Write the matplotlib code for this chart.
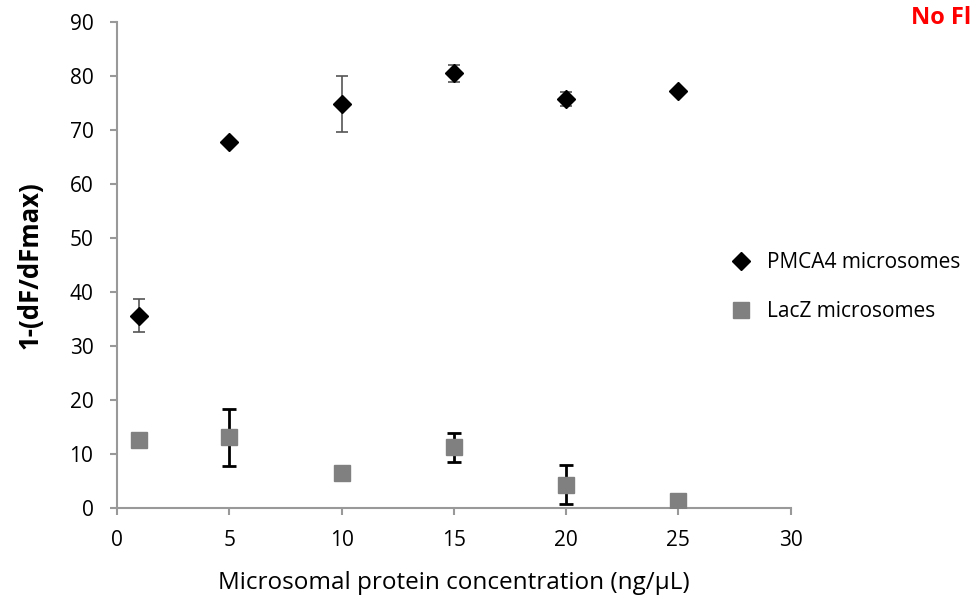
import matplotlib
matplotlib.use("Agg")
import matplotlib.pyplot as plt
from matplotlib.lines import Line2D

x = [1, 5, 10, 15, 20, 25]
pmca4 = [35.6, 67.8, 74.8, 80.5, 75.8, 77.3]
pmca4_err = [3.1, 0.0, 5.2, 1.6, 1.3, 0.0]
lacz = [12.5, 13.1, 6.4, 11.2, 4.3, 1.3]
lacz_err = [0.0, 5.3, 0.0, 2.7, 3.6, 0.0]

xticks = [0, 5, 10, 15, 20, 25, 30]
yticks = [0, 10, 20, 30, 40, 50, 60, 70, 80, 90]

plt.rcParams['font.family'] = ['Open Sans', 'DejaVu Sans']

fig = plt.figure(figsize=(9.75, 5.96), dpi=100)
ax = fig.add_axes([0.12, 0.1477, 0.691, 0.8154])

ax.errorbar(x, pmca4, yerr=pmca4_err, fmt='D', color='black', markersize=9,
            ecolor='#555555', elinewidth=1.2, capsize=4, capthick=1.2, zorder=3)
ax.errorbar(x, lacz, yerr=lacz_err, fmt='s', color='#808080', markersize=12,
            ecolor='black', elinewidth=2, capsize=5, capthick=2, zorder=3)

ax.set_xlim(0, 30)
ax.set_ylim(0, 90)
ax.set_xticks(xticks)
ax.set_yticks(yticks)
for s in ['top', 'right']:
    ax.spines[s].set_visible(False)
for s in ['left', 'bottom']:
    ax.spines[s].set_color('#999999')
    ax.spines[s].set_linewidth(1.5)
ax.tick_params(axis='both', colors='#999999', width=1.5, length=5,
               labelcolor='black', labelsize=15)
ax.tick_params(axis='y', pad=12)
ax.tick_params(axis='x', pad=11)

ax.set_xlabel('Microsomal protein concentration (ng/\u00b5L)', fontsize=17.5, labelpad=14)
ax.set_ylabel('1-(dF/dFmax)', fontsize=18.5, fontweight='bold', labelpad=19)

handles = [Line2D([], [], marker='D', color='black', linestyle='none', markersize=9),
           Line2D([], [], marker='s', color='#808080', linestyle='none', markersize=12)]
fig.legend(handles, ['PMCA4 microsomes', 'LacZ microsomes'], loc='upper left',
           bbox_to_anchor=(0.739, 0.594), frameon=False, fontsize=15,
           borderpad=0, handletextpad=0.75, labelspacing=1.33, handlelength=1.0)

fig.text(0.934, 0.969, 'No Fl', color='red', fontsize=17, fontweight='bold',
         ha='left', va='center')

fig.savefig('out.png', dpi=100)
